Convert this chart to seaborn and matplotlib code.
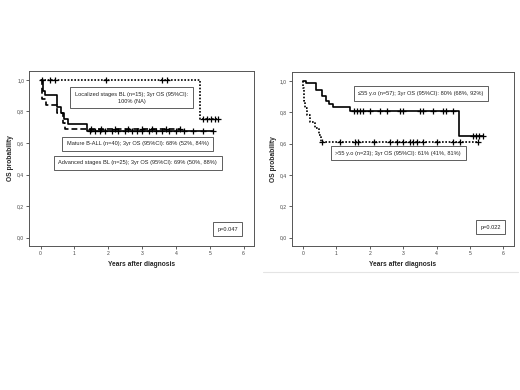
import numpy as np
import pandas as pd
import matplotlib
matplotlib.use("Agg")
import matplotlib.pyplot as plt
from matplotlib.lines import Line2D
import seaborn as sns

sns.set_theme(style="white")
plt.rcParams["font.family"] = ["Liberation Sans", "DejaVu Sans"]

# ── Data ──────────────────────────────────────────────────────────────────────
# Left panel: Kaplan-Meier steps (time, survival) and censor times
loc_t = [0, 4.72, 5.26]
loc_s = [1.0, 0.75, 0.75]
loc_c = [0.03, 0.28, 0.42, 1.95, 3.58, 3.73, 4.79, 4.92, 5.05, 5.17, 5.26]

ball_t = [0, 0.06, 0.12, 0.49, 0.60, 0.69, 0.80, 1.38, 5.11]
ball_s = [1.0, 0.93, 0.905, 0.83, 0.79, 0.75, 0.72, 0.678, 0.678]
ball_c = [1.45, 1.6, 1.75, 1.9, 2.1, 2.3, 2.5, 2.7, 2.85, 3.0, 3.2, 3.4,
          3.6, 3.8, 4.0, 4.25, 4.5, 4.8, 5.11]

adv_t = [0, 0.05, 0.17, 0.50, 0.65, 0.73, 4.12]
adv_s = [1.0, 0.88, 0.84, 0.79, 0.725, 0.69, 0.69]
adv_c = [1.5, 1.8, 2.2, 2.6, 3.0, 3.3, 3.7, 4.12]

# Right panel
young_t = [0, 0.08, 0.40, 0.58, 0.70, 0.78, 0.90, 1.40, 4.68, 5.40]
young_s = [1.0, 0.983, 0.94, 0.90, 0.87, 0.85, 0.835, 0.805, 0.645, 0.645]
young_c = [1.52, 1.61, 1.71, 1.81, 2.01, 2.31, 2.51, 2.90, 3.0, 3.5, 3.6,
           3.89, 4.19, 4.29, 4.49, 5.08, 5.18, 5.28, 5.40]

old_t = [0, 0.01, 0.02, 0.03, 0.05, 0.12, 0.22, 0.36, 0.48, 0.55, 5.23]
old_s = [1.0, 0.957, 0.913, 0.870, 0.826, 0.783, 0.739, 0.696, 0.652, 0.609, 0.609]
old_c = [0.58, 1.12, 1.57, 1.66, 2.12, 2.61, 2.81, 3.0, 3.2, 3.3, 3.4, 3.58,
         4.0, 4.49, 4.69, 5.23]

x_ticks = [0, 1, 2, 3, 4, 5, 6]
y_ticks = [0.0, 0.2, 0.4, 0.6, 0.8, 1.0]
y_tick_labels = ["0,0", "0,2", "0,4", "0,6", "0,8", "1,0"]

left_notes = [
    ("Localized stages BL (n=15); 3yr OS (95%CI):\n100% (NA)", 0.455, 0.847),
    ("Mature B-ALL (n=40); 3yr OS (95%CI): 68% (52%, 84%)", 0.482, 0.582),
    ("Advanced stages BL (n=25); 3yr OS (95%CI): 69% (50%, 88%)", 0.482, 0.476),
    ("p=0.047", 0.881, 0.097),
]
right_notes = [
    ("\u226455 y.o (n=57); 3yr OS (95%CI): 80% (68%, 92%)", 0.582, 0.875),
    (">55 y.o (n=23); 3yr OS (95%CI): 61% (41%, 81%)", 0.479, 0.532),
    ("p=0.022", 0.894, 0.109),
]


def surv_at(times, surv, t):
    idx = np.searchsorted(times, t, side="right") - 1
    return np.asarray(surv)[idx]


def km_curve(ax, times, surv, cens, ls, lw):
    df = pd.DataFrame({"t": times, "s": surv})
    sns.lineplot(data=df, x="t", y="s", ax=ax, drawstyle="steps-post",
                 estimator=None, sort=False, color="black", linestyle=ls,
                 linewidth=lw)
    cdf = pd.DataFrame({"t": cens, "s": surv_at(times, surv, cens)})
    sns.scatterplot(data=cdf, x="t", y="s", ax=ax, marker="+", s=14,
                    color="black", linewidth=0.9, zorder=3)


def style_axes(ax, notes):
    ax.set_xlim(-0.34, 6.32)
    ax.set_ylim(-0.053, 1.058)
    ax.set_xticks(x_ticks)
    ax.set_xticklabels([str(v) for v in x_ticks])
    ax.set_yticks(y_ticks)
    ax.set_yticklabels(y_tick_labels)
    ax.tick_params(axis="both", labelsize=3.6, length=2, width=0.6,
                   colors="#444444", pad=1.5, bottom=True, left=True)
    for sp in ax.spines.values():
        sp.set_color("#555555")
        sp.set_linewidth(0.7)
    ax.set_xlabel("Years after diagnosis", fontsize=4.8, fontweight="bold",
                  labelpad=4)
    ax.set_ylabel("OS probability", fontsize=4.8, fontweight="bold",
                  labelpad=2)
    for txt, x, y in notes:
        ax.text(x, y, txt, transform=ax.transAxes, ha="center", va="center",
                fontsize=4.1, color="#222222", linespacing=1.5,
                bbox=dict(boxstyle="square,pad=0.8", fc="white",
                          ec="#444444", lw=0.6))


fig = plt.figure(figsize=(5.2, 3.9), dpi=100)
fig.patch.set_facecolor("white")
ax1 = fig.add_axes([0.0558, 0.3692, 0.4333, 0.4495])
ax2 = fig.add_axes([0.5610, 0.3692, 0.4275, 0.4470])

km_curve(ax1, loc_t, loc_s, loc_c, (0, (1.0, 1.0)), 1.2)
km_curve(ax1, adv_t, adv_s, adv_c, (0, (3.5, 1.8)), 1.2)
km_curve(ax1, ball_t, ball_s, ball_c, "-", 1.2)
style_axes(ax1, left_notes)

km_curve(ax2, young_t, young_s, young_c, "-", 1.2)
km_curve(ax2, old_t, old_s, old_c, (0, (1.0, 1.0)), 1.2)
style_axes(ax2, right_notes)

# faint separator line under the right panel
fig.add_artist(Line2D([0.506, 0.996], [0.3033, 0.3033], color="#e4e4e4",
                      lw=0.8, transform=fig.transFigure))

fig.savefig("out.png", dpi=100)
